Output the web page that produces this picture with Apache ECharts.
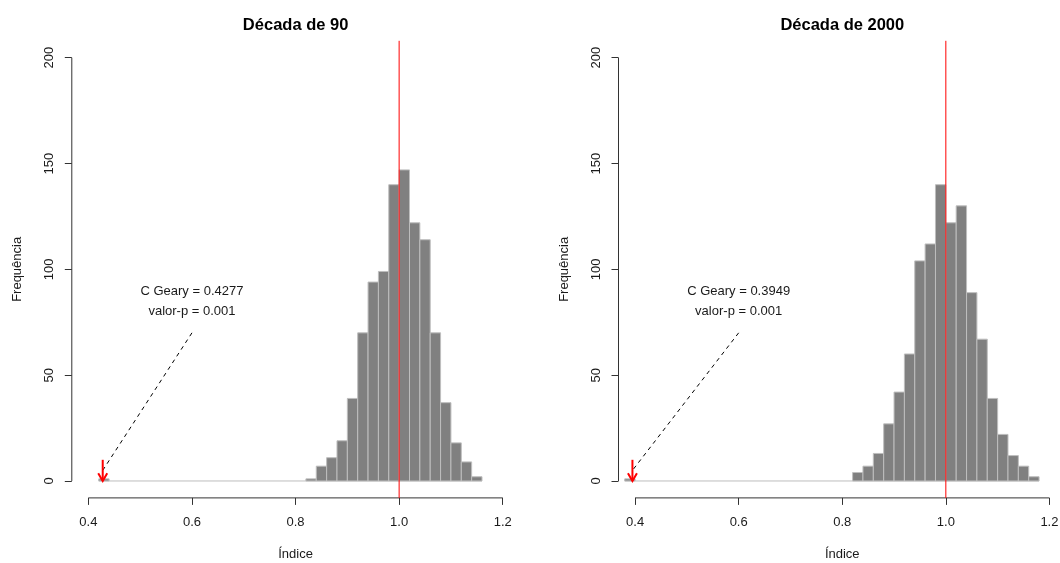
<!DOCTYPE html>
<html><head><meta charset="utf-8">
<script src="https://cdn.jsdelivr.net/npm/echarts@6/dist/echarts.min.js"></script>
<style>html,body{margin:0;padding:0;background:#fff}#c{width:1060px;height:563px}</style>
</head><body><div id="c"></div>
<script>
// ---------- data ----------
const panelTitles = ['Década de 90', 'Década de 2000'];
const binWidth = 0.02;
// lower edges of non-empty bins, and their counts
const bins90   = [0.42, 0.82, 0.84, 0.86, 0.88, 0.90, 0.92, 0.94, 0.96, 0.98, 1.00, 1.02, 1.04, 1.06, 1.08, 1.10, 1.12, 1.14];
const counts90 = [1,    1,    7,    11,   19,   39,   70,   94,   99,   140,  147,  122,  114,  70,   37,   18,   9,    2];
const range90  = [0.42, 1.16];
const bins00   = [0.38, 0.82, 0.84, 0.86, 0.88, 0.90, 0.92, 0.94, 0.96, 0.98, 1.00, 1.02, 1.04, 1.06, 1.08, 1.10, 1.12, 1.14, 1.16];
const counts00 = [1,    4,    7,    13,   27,   42,   60,   104,  112,  140,  122,  130,  89,   67,   39,   22,   12,   7,    2];
const range00  = [0.38, 1.18];
const observed = [0.4277, 0.3949];
const statLabels = ['C Geary = 0.4277\nvalor-p = 0.001', 'C Geary = 0.3949\nvalor-p = 0.001'];
const xTicks = [0.4, 0.6, 0.8, 1.0, 1.2];
const yTicks = [0, 50, 100, 150, 200];
const refValue = 1.0;
const xLim = [0.368, 1.232];
const yLim = [-8, 208];
const annot = { text: [0.6, 85], lineFrom: [0.6, 70], lineToY: 5, arrowTop: 10, arrowTip: 0 };

// ---------- layout ----------
const FONT = 'Liberation Sans, Arial, sans-serif';
const grids = [
  { left: 71.8, top: 40.8, width: 447.5, height: 457.1, outerBoundsMode: 'none', containLabel: false },
  { left: 618.5, top: 40.8, width: 447.5, height: 457.1, outerBoundsMode: 'none', containLabel: false }
];

function renderBar(params, api) {
  const x0 = api.value(0), x1 = api.value(1), c = api.value(2);
  const p0 = api.coord([x0, 0]), p1 = api.coord([x1, c]);
  if (c === 0) {
    return { type: 'line', shape: { x1: p0[0], y1: p0[1], x2: p1[0], y2: p0[1] },
      style: { stroke: '#BEBEBE', lineWidth: 1 } };
  }
  return { type: 'rect', shape: { x: p0[0], y: p1[1], width: p1[0] - p0[0], height: p0[1] - p1[1] },
    style: { fill: '#808080', stroke: '#BEBEBE', lineWidth: 1 } };
}
function renderArrow(params, api) {
  const x = api.value(0);
  const a = api.coord([x, api.value(1)]), b = api.coord([x, api.value(2)]);
  return { type: 'group', children: [
    { type: 'line', shape: { x1: a[0], y1: a[1], x2: b[0], y2: b[1] }, style: { stroke: '#FF0000', lineWidth: 2 } },
    { type: 'polyline', shape: { points: [[b[0] - 4.5, b[1] - 7.8], [b[0], b[1]], [b[0] + 4.5, b[1] - 7.8]] },
      style: { stroke: '#FF0000', lineWidth: 2, fill: null } }
  ] };
}
function renderVLine(params, api) {
  const a = api.coord([api.value(0), api.value(1)]), b = api.coord([api.value(0), api.value(2)]);
  return { type: 'line', shape: { x1: a[0], y1: a[1], x2: b[0], y2: b[1] }, style: { stroke: '#FF0000', lineWidth: 1 } };
}
function makeTextRenderer(txt) {
  return function (params, api) {
    const p = api.coord([api.value(0), api.value(1)]);
    return { type: 'text', x: p[0], y: p[1], style: { text: txt, textAlign: 'center', textVerticalAlign: 'middle',
      font: '13px ' + FONT, fill: '#1a1a1a', lineHeight: 20 } };
  };
}

const xAxes = [], yAxes = [], series = [], graphics = [];
const panels = [
  { bins: bins90, counts: counts90, range: range90 },
  { bins: bins00, counts: counts00, range: range00 }
];
panels.forEach((pn, i) => {
  xAxes.push({
    type: 'value', gridIndex: i, min: xLim[0], max: xLim[1],
    axisLine: { show: false, onZero: false }, splitLine: { show: false },
    axisTick: { show: true, customValues: xTicks, length: 7, lineStyle: { color: '#333', width: 1 } },
    axisLabel: { show: true, customValues: xTicks, margin: 18, color: '#1a1a1a', fontSize: 13, fontFamily: FONT,
      formatter: v => v.toFixed(1) },
    name: 'Índice', nameLocation: 'middle', nameGap: 50,
    nameTextStyle: { fontSize: 13, fontFamily: FONT, color: '#1a1a1a' }
  });
  yAxes.push({
    type: 'value', gridIndex: i, min: yLim[0], max: yLim[1],
    axisLine: { show: false, onZero: false }, splitLine: { show: false },
    axisTick: { show: true, customValues: yTicks, length: 7, lineStyle: { color: '#333', width: 1 } },
    axisLabel: { show: true, customValues: yTicks, rotate: 90, margin: 16, color: '#1a1a1a', fontSize: 13, fontFamily: FONT },
    name: 'Frequência', nameLocation: 'middle', nameGap: 48, nameRotate: 90,
    nameTextStyle: { fontSize: 13, fontFamily: FONT, color: '#1a1a1a' }
  });
  const histData = [[pn.range[0], pn.range[1], 0]].concat(pn.bins.map((b, k) => [b, b + binWidth, pn.counts[k]]));
  series.push({ type: 'custom', xAxisIndex: i, yAxisIndex: i, renderItem: renderBar, data: histData,
    encode: { x: [0, 1], y: 2 }, silent: true, z: 2 });
  // axis lines spanning first to last tick (R style)
  series.push({ type: 'line', xAxisIndex: i, yAxisIndex: i, data: [[xTicks[0], yLim[0]], [xTicks[xTicks.length - 1], yLim[0]]],
    symbol: 'none', color: '#333', lineStyle: { color: '#333', width: 1 }, silent: true, clip: false, z: 3 });
  series.push({ type: 'line', xAxisIndex: i, yAxisIndex: i, data: [[xLim[0], yTicks[0]], [xLim[0], yTicks[yTicks.length - 1]]],
    symbol: 'none', color: '#333', lineStyle: { color: '#333', width: 1 }, silent: true, clip: false, z: 3 });
  // reference line
  series.push({ type: 'custom', xAxisIndex: i, yAxisIndex: i, renderItem: renderVLine,
    data: [[refValue, yLim[0], yLim[1]]], encode: { x: 0, y: [1, 2] }, silent: true, z: 4 });
  // dashed pointer line
  series.push({ type: 'line', xAxisIndex: i, yAxisIndex: i, data: [annot.lineFrom, [observed[i], annot.lineToY]],
    symbol: 'none', color: '#000', lineStyle: { color: '#000', width: 1, type: [4, 4] }, silent: true, z: 5 });
  // red arrow
  series.push({ type: 'custom', xAxisIndex: i, yAxisIndex: i, renderItem: renderArrow,
    data: [[observed[i], annot.arrowTop, annot.arrowTip]], encode: { x: 0, y: [1, 2] }, silent: true, z: 6, clip: false });
  // stat text
  series.push({ type: 'custom', xAxisIndex: i, yAxisIndex: i, renderItem: makeTextRenderer(statLabels[i]),
    data: [annot.text], encode: { x: 0, y: 1 }, silent: true, z: 6 });
  graphics.push({ type: 'text', x: grids[i].left + 223.8, y: 25.5, style: { text: panelTitles[i], textAlign: 'center',
    textVerticalAlign: 'middle', font: 'bold 16.5px ' + FONT, fill: '#000' } });
});

const chart = echarts.init(document.getElementById('c'), null, { renderer: 'canvas' });
chart.setOption({
  animation: false,
  backgroundColor: '#fff',
  grid: grids,
  xAxis: xAxes,
  yAxis: yAxes,
  series: series,
  graphic: graphics
});
</script>
</body></html>
